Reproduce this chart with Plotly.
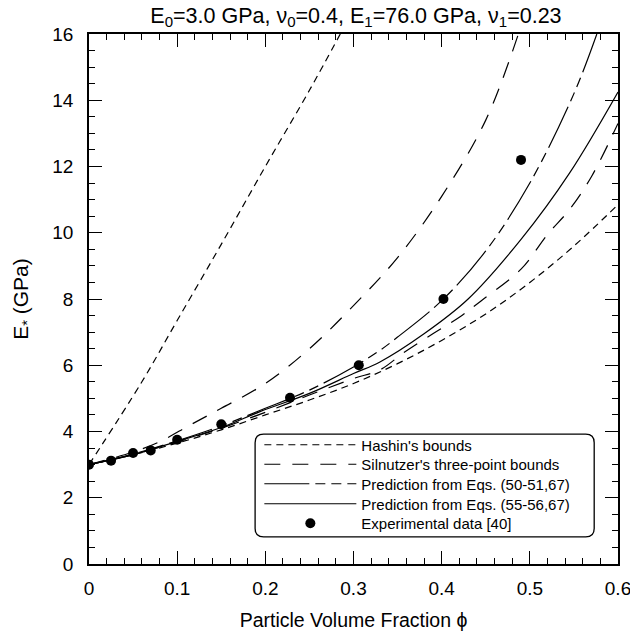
import plotly.graph_objects as go

# ---- data ----
hashin_up_x = [0, 0.06, 0.10, 0.15, 0.20, 0.25, 0.285]
hashin_up_y = [3.0, 5.5, 7.35, 9.65, 12.0, 14.3, 16.0]

hashin_lo_x = [0, 0.05, 0.10, 0.15, 0.20, 0.25, 0.30, 0.35, 0.40, 0.45, 0.50, 0.55, 0.60]
hashin_lo_y = [3.0, 3.3, 3.65, 4.05, 4.5, 4.95, 5.45, 6.05, 6.75, 7.55, 8.5, 9.6, 10.85]

silnutzer_up_x = [0, 0.05, 0.08, 0.115, 0.15, 0.20, 0.25, 0.30, 0.35, 0.40, 0.45, 0.487]
silnutzer_up_y = [3.0, 3.38, 3.69, 4.2, 4.7, 5.45, 6.5, 7.8, 9.25, 11.1, 13.4, 16.0]

silnutzer_lo_x = [0, 0.05, 0.10, 0.15, 0.20, 0.25, 0.30, 0.33, 0.357, 0.39, 0.42, 0.445, 0.49, 0.52, 0.545, 0.57, 0.60]
silnutzer_lo_y = [3.0, 3.3, 3.68, 4.1, 4.58, 5.1, 5.6, 5.86, 6.38, 6.95, 7.45, 7.95, 8.9, 9.95, 10.7, 11.7, 13.3]

pred1_x = [0, 0.05, 0.10, 0.15, 0.20, 0.25, 0.30, 0.33, 0.35, 0.40, 0.45, 0.50, 0.55, 0.576]
pred1_y = [3.0, 3.32, 3.72, 4.17, 4.7, 5.25, 5.95, 6.45, 6.85, 7.95, 9.45, 11.5, 14.2, 16.0]

pred2_x = [0, 0.05, 0.10, 0.15, 0.194, 0.25, 0.30, 0.33, 0.38, 0.43, 0.49, 0.545, 0.60]
pred2_y = [3.0, 3.3, 3.7, 4.12, 4.6, 5.15, 5.75, 6.1, 6.95, 8.0, 9.8, 11.8, 14.25]

exp_x = [0, 0.025, 0.05, 0.07, 0.10, 0.15, 0.228, 0.306, 0.402, 0.49]
exp_y = [3.0, 3.12, 3.35, 3.43, 3.75, 4.22, 5.02, 6.0, 8.0, 12.2]

x_ticks = [0, 0.1, 0.2, 0.3, 0.4, 0.5, 0.6]
x_tick_labels = ["0", "0.1", "0.2", "0.3", "0.4", "0.5", "0.6"]
y_ticks = [0, 2, 4, 6, 8, 10, 12, 14, 16]
y_tick_labels = ["0", "2", "4", "6", "8", "10", "12", "14", "16"]

legend_labels = ["Hashin's bounds", "Silnutzer's three-point bounds",
                 "Prediction from Eqs. (50-51,67)", "Prediction from Eqs. (55-56,67)",
                 "Experimental data [40]"]

FONT = "Liberation Sans, Arial, Helvetica, sans-serif"
LW = 1.2
DASH_H = "7px,5px"
DASH_S = "16px,12px"
DASH_P1 = "45px,6px,10px,6px,10px,6px"

fig = go.Figure()

fig.add_trace(go.Scatter(x=hashin_up_x, y=hashin_up_y, mode="lines", name=legend_labels[0],
                         line=dict(color="black", width=LW, dash=DASH_H), line_shape="spline",
                         legendgroup="h", legend="legend"))
fig.add_trace(go.Scatter(x=hashin_lo_x, y=hashin_lo_y, mode="lines", name=legend_labels[0],
                         line=dict(color="black", width=LW, dash=DASH_H), line_shape="spline",
                         legendgroup="h", showlegend=False))
fig.add_trace(go.Scatter(x=silnutzer_up_x, y=silnutzer_up_y, mode="lines", name=legend_labels[1],
                         line=dict(color="black", width=LW, dash=DASH_S), line_shape="spline",
                         legendgroup="s", legend="legend2"))
fig.add_trace(go.Scatter(x=silnutzer_lo_x, y=silnutzer_lo_y, mode="lines", name=legend_labels[1],
                         line=dict(color="black", width=LW, dash=DASH_S), line_shape="spline",
                         legendgroup="s", showlegend=False))
fig.add_trace(go.Scatter(x=pred1_x, y=pred1_y, mode="lines", name=legend_labels[2],
                         line=dict(color="black", width=LW, dash=DASH_P1), line_shape="spline",
                         legend="legend3"))
fig.add_trace(go.Scatter(x=pred2_x, y=pred2_y, mode="lines", name=legend_labels[3],
                         line=dict(color="black", width=LW), line_shape="spline", legend="legend4"))
fig.add_trace(go.Scatter(x=exp_x, y=exp_y, mode="markers", name=legend_labels[4],
                         marker=dict(color="black", size=10), legend="legend5"))

axis_common = dict(
    showline=True, linecolor="black", linewidth=1.5, mirror="ticks",
    ticks="inside", ticklen=13, tickwidth=1.3, tickcolor="black",
    showgrid=False, zeroline=False, automargin=False, ticklabeloverflow="allow",
    tickfont=dict(family=FONT, size=19, color="black"),
)

fig.update_xaxes(range=[0, 0.6], tickvals=x_ticks, ticktext=x_tick_labels,
                 minor=dict(dtick=0.02, ticks="inside", ticklen=6, tickwidth=1.1, tickcolor="black", showgrid=False),
                 title=dict(text="Particle Volume Fraction \u03d5", font=dict(family=FONT, size=19.5, color="black"),
                            standoff=16),
                 ticklabelstandoff=6,
                 **axis_common)
fig.update_yaxes(range=[0, 16], tickvals=y_ticks, ticktext=y_tick_labels,
                 minor=dict(dtick=0.5, ticks="inside", ticklen=6, tickwidth=1.1, tickcolor="black", showgrid=False),
                 title=dict(text="E<sub>*</sub> (GPa)", font=dict(family=FONT, size=21, color="black"),
                            standoff=18),
                 ticklabelstandoff=10,
                 **axis_common)

# rounded legend frame (paper coords)
x0, x1, y0, y1 = 0.314, 0.955, 0.051, 0.245
rx, ry = 0.016, 0.016
path = (f"M{x0+rx},{y0} L{x1-rx},{y0} Q{x1},{y0} {x1},{y0+ry} L{x1},{y1-ry} Q{x1},{y1} {x1-rx},{y1} "
        f"L{x0+rx},{y1} Q{x0},{y1} {x0},{y1-ry} L{x0},{y0+ry} Q{x0},{y0} {x0+rx},{y0} Z")
fig.add_shape(type="path", xref="paper", yref="paper", path=path,
              line=dict(color="black", width=1.3), fillcolor="white", layer="below")

row_y = [0.2245, 0.1877, 0.1509, 0.1132, 0.0764]
legend_layout = {}
for i, ry_ in enumerate(row_y):
    key = "legend" if i == 0 else f"legend{i+1}"
    legend_layout[key] = dict(x=0.322, y=ry_, xanchor="left", yanchor="middle",
                              bgcolor="rgba(0,0,0,0)", borderwidth=0,
                              font=dict(family=FONT, size=15, color="black"),
                              itemwidth=92, tracegroupgap=0)

fig.update_layout(
    width=630, height=640,
    margin=dict(l=89, r=12, t=34, b=76),
    paper_bgcolor="white", plot_bgcolor="rgba(0,0,0,0)",
    font=dict(family=FONT, color="black"),
    title=dict(text="E<sub>0</sub>=3.0 GPa, \u03bd<sub>0</sub>=0.4, E<sub>1</sub>=76.0 GPa, \u03bd<sub>1</sub>=0.23",
               x=0.565, xanchor="center", y=0.988, yanchor="top",
               font=dict(family=FONT, size=21.5, color="black")),
    showlegend=True,
    **legend_layout,
)

fig.write_html("out.html", config={"displayModeBar": False},
               post_script="document.body.style.margin='0';document.body.style.padding='0';")
